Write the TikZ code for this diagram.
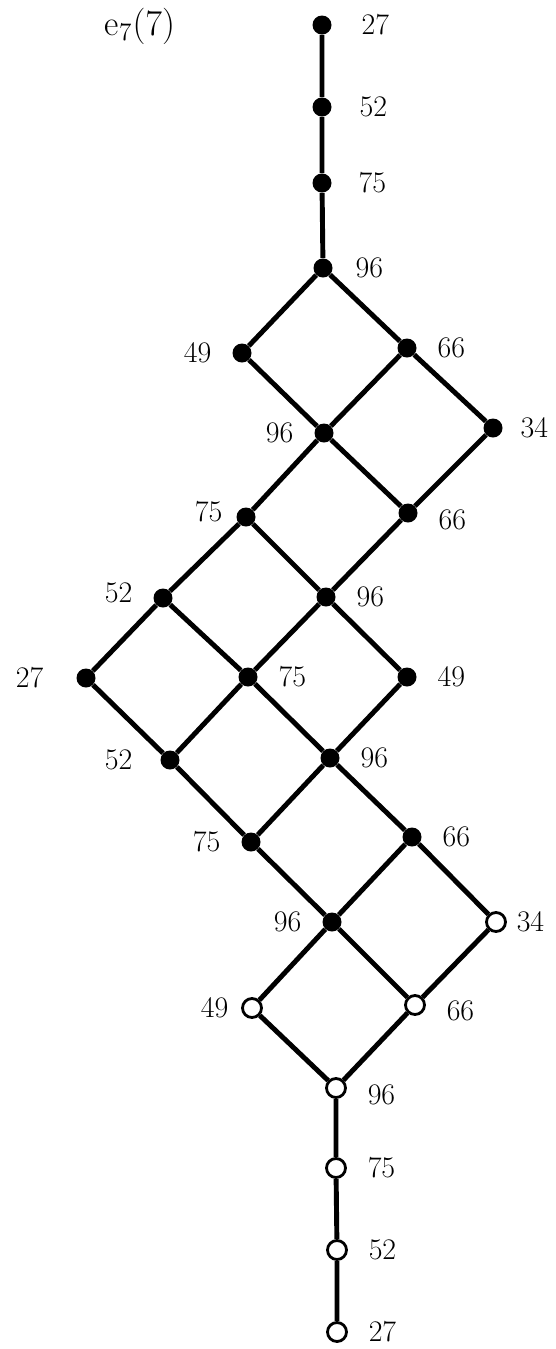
\documentclass[tikz,border=0pt]{standalone}
\usepackage{fontspec}
\usepackage{tikz}
\usetikzlibrary{positioning}

\begin{document}
\begin{tikzpicture}[
    full/.style={circle, fill=black, inner sep=0pt, minimum size=0.38cm},
    hollow/.style={circle, draw, line width=1.6pt, fill=white, inner sep=0pt, minimum size=0.38cm},
    every label/.style={font=\fontsize{17}{19}\selectfont, inner sep=2pt},
    label distance=0.34cm,
    edge/.style={line width=2.8pt}
]
\useasboundingbox (0,0) rectangle (11.12,-26.98);
\node[font=\fontsize{20}{23}\selectfont] (title) at (2.80,-0.52) {$\mathrm{e}_7(7)$};

% top chain
\node[full, label={[label distance=0.52cm]right:27}] (t27) at (6.44,-0.50) {};
\node[full, label={[label distance=0.48cm]right:52}] (t52) at (6.44,-2.14) {};
\node[full, label={[label distance=0.46cm]right:75}] (t75) at (6.44,-3.66) {};
\node[full, label={[label distance=0.38cm]right:96}] (t96) at (6.46,-5.36) {};

% lattice, filled part
\node[full, label=left:49] (a49) at (4.84,-7.06) {};
\node[full, label=right:66] (a66) at (8.14,-6.96) {};
\node[full, label=left:96] (b96) at (6.48,-8.66) {};
\node[full, label={[label distance=0.28cm]right:34}] (b34) at (9.86,-8.56) {};
\node[full, label={[label distance=0.2cm, yshift=0.1cm]left:75}] (c75) at (4.92,-10.34) {};
\node[full, label={[yshift=-0.14cm]right:66}] (c66) at (8.16,-10.26) {};
\node[full, label={[yshift=0.1cm]left:52}] (d52) at (3.26,-11.96) {};
\node[full, label=right:96] (d96) at (6.52,-11.94) {};
\node[full, label={[label distance=0.58cm]left:27}] (e27) at (1.72,-13.56) {};
\node[full, label=right:75] (e75) at (4.96,-13.54) {};
\node[full, label=right:49] (e49) at (8.14,-13.54) {};
\node[full, label={[label distance=0.48cm]left:52}] (f52) at (3.40,-15.20) {};
\node[full, label=right:96] (f96) at (6.60,-15.16) {};
\node[full, label=left:75] (g75) at (5.02,-16.84) {};
\node[full, label=right:66] (g66) at (8.24,-16.74) {};
\node[full, label=left:96] (h96) at (6.64,-18.44) {};

% lattice, open part
\node[hollow, label={[label distance=0.12cm]right:34}] (h34) at (9.92,-18.44) {};
\node[hollow, label={[label distance=0.18cm]left:49}] (i49) at (5.04,-20.16) {};
\node[hollow, label={[yshift=-0.12cm]right:66}] (i66) at (8.30,-20.10) {};
\node[hollow, label={[yshift=-0.14cm]right:96}] (j96) at (6.72,-21.76) {};
\node[hollow, label=right:75] (k75) at (6.72,-23.36) {};
\node[hollow, label=right:52] (l52) at (6.74,-25.00) {};
\node[hollow, label=right:27] (m27) at (6.74,-26.64) {};

% connectors
\draw[edge] (t27) -- (t52) -- (t75) -- (t96);
\draw[edge] (t96) -- (a49);
\draw[edge] (t96) -- (a66);
\draw[edge] (a49) -- (b96);
\draw[edge] (a66) -- (b96);
\draw[edge] (a66) -- (b34);
\draw[edge] (b96) -- (c75);
\draw[edge] (b96) -- (c66);
\draw[edge] (b34) -- (c66);
\draw[edge] (c75) -- (d52);
\draw[edge] (c75) -- (d96);
\draw[edge] (c66) -- (d96);
\draw[edge] (d52) -- (e27);
\draw[edge] (d52) -- (e75);
\draw[edge] (d96) -- (e75);
\draw[edge] (d96) -- (e49);
\draw[edge] (e27) -- (f52);
\draw[edge] (e75) -- (f52);
\draw[edge] (e75) -- (f96);
\draw[edge] (e49) -- (f96);
\draw[edge] (f52) -- (g75);
\draw[edge] (f96) -- (g75);
\draw[edge] (f96) -- (g66);
\draw[edge] (g75) -- (h96);
\draw[edge] (g66) -- (h96);
\draw[edge] (g66) -- (h34);
\draw[edge] (h96) -- (i49);
\draw[edge] (h96) -- (i66);
\draw[edge] (h34) -- (i66);
\draw[edge] (i49) -- (j96);
\draw[edge] (i66) -- (j96);
\draw[edge] (j96) -- (k75) -- (l52) -- (m27);
\end{tikzpicture}
\end{document}
